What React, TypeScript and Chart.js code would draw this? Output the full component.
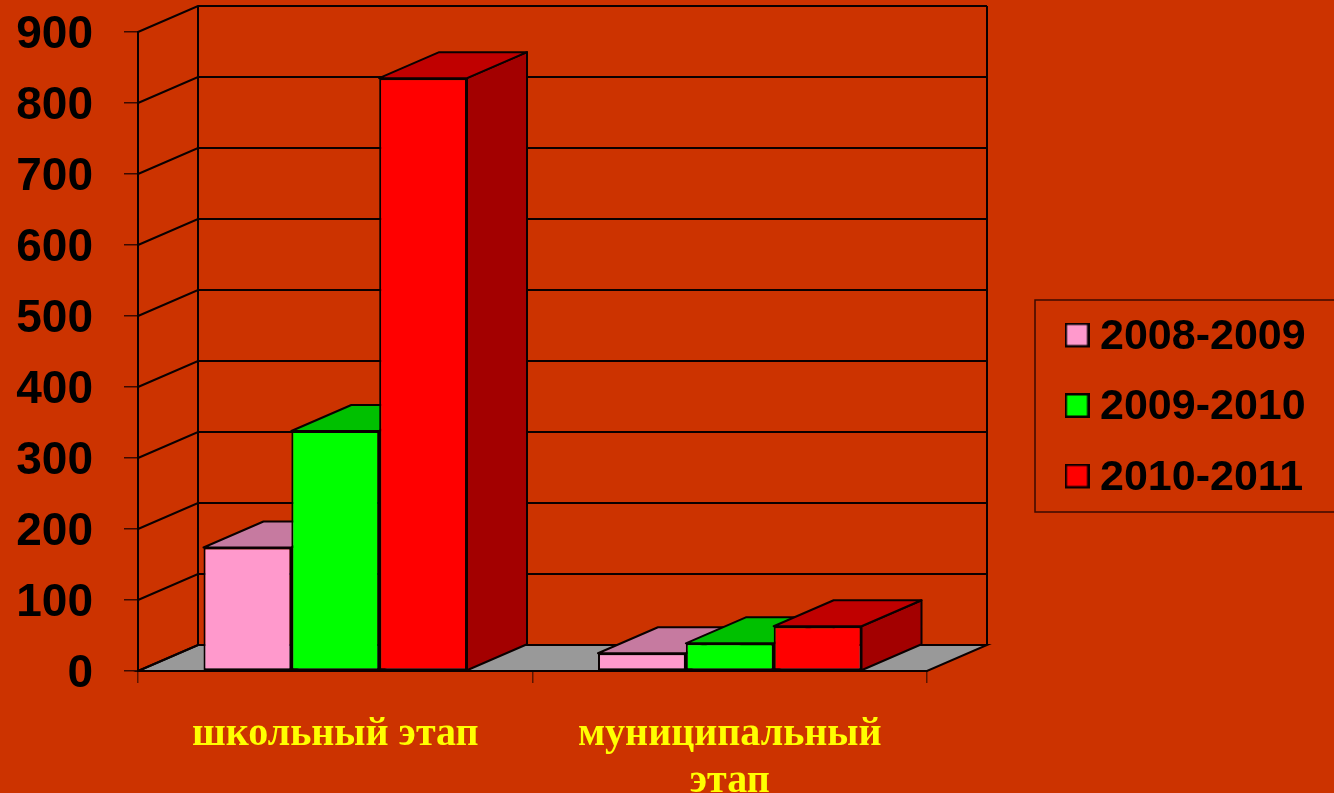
import React, { useEffect, useRef } from "react";
import { Chart, registerables } from "chart.js";

Chart.register(...registerables);

const categories: (string | string[])[] = ["школьный этап", ["муниципальный", "этап"]];
const seriesNames = ["2008-2009", "2009-2010", "2010-2011"];
const values2008 = [174, 25];
const values2009 = [338, 39];
const values2010 = [835, 63];
const frontColors = ["#FF99CC", "#00FF00", "#FF0000"];
const topColors = ["#C67AA0", "#00C000", "#C00000"];
const sideColors = ["#99587A", "#009A00", "#A30000"];
const gridValues = [0, 100, 200, 300, 400, 500, 600, 700, 800, 900];

const BG = "#CC3300";
const INK = "#0A0000";
const DX = 60;
const DY = 26;
const shiftedLabels = new WeakSet<object>();

function makeSwatch(color: string) {
  const c = document.createElement("canvas");
  c.width = 25;
  c.height = 29;
  const g = c.getContext("2d")!;
  g.fillStyle = color;
  g.fillRect(0, 0, 25, 25);
  g.strokeStyle = INK;
  g.lineWidth = 2.5;
  g.strokeRect(1.25, 1.25, 22.5, 22.5);
  return c;
}

function poly(ctx: CanvasRenderingContext2D, pts: number[][], fill: string | null, lw = 2) {
  ctx.beginPath();
  pts.forEach((p, i) => (i ? ctx.lineTo(p[0], p[1]) : ctx.moveTo(p[0], p[1])));
  ctx.closePath();
  if (fill) {
    ctx.fillStyle = fill;
    ctx.fill();
  }
  ctx.lineWidth = lw;
  ctx.strokeStyle = INK;
  ctx.stroke();
}

const scene3d = {
  id: "scene3d",
  afterLayout(chart: any) {
    const lg = chart.legend;
    if (lg) {
      lg.left = 1048;
      lg.right = 1334;
      lg.top = 288;
      lg.bottom = 560;
    }
  },
  beforeDraw(chart: any) {
    const { ctx, chartArea, scales } = chart;
    const { left, right } = chartArea;
    const y = scales.y;

    const items = y.getLabelItems(chartArea);
    if (!shiftedLabels.has(items)) {
      shiftedLabels.add(items);
      items.forEach((it: any) => {
        it.options.translation[1] += 3.5;
      });
    }

    ctx.save();
    ctx.fillStyle = BG;
    ctx.fillRect(0, 0, chart.width, chart.height);

    // legend frame
    ctx.strokeStyle = "#3A0A00";
    ctx.lineWidth = 1.5;
    ctx.strokeRect(1035, 300, 320, 212);

    // floor
    const y0 = y.getPixelForValue(0);
    poly(ctx, [[left, y0], [left + DX, y0 - DY], [right + DX, y0 - DY], [right, y0]], "#999999", 2);

    // walls
    ctx.strokeStyle = INK;
    ctx.lineWidth = 2;
    gridValues.forEach((v) => {
      const py = y.getPixelForValue(v);
      ctx.beginPath();
      ctx.moveTo(left, py);
      ctx.lineTo(left + DX, py - DY);
      ctx.lineTo(right + DX, py - DY);
      ctx.stroke();
    });
    const yTop = y.getPixelForValue(900);
    ctx.beginPath();
    ctx.moveTo(left + DX, yTop - DY);
    ctx.lineTo(left + DX, y0 - DY);
    ctx.moveTo(right + DX, yTop - DY);
    ctx.lineTo(right + DX, y0 - DY);
    ctx.stroke();
    ctx.restore();
  },
  beforeDatasetsDraw(chart: any) {
    const { ctx } = chart;
    ctx.save();
    ctx.lineJoin = "round";
    for (let c = 0; c < categories.length; c++) {
      for (let d = 0; d < chart.data.datasets.length; d++) {
        const bar = chart.getDatasetMeta(d).data[c];
        const l = bar.x - bar.width / 2;
        const r = bar.x + bar.width / 2;
        const t = bar.y;
        const b = bar.base;
        poly(ctx, [[r, t], [r + DX, t - DY], [r + DX, b - DY], [r, b]], sideColors[d]);
        poly(ctx, [[l, t], [l + DX, t - DY], [r + DX, t - DY], [r, t]], topColors[d]);
      }
    }
    ctx.restore();
  },
};

export default function App() {
  const ref = useRef<HTMLCanvasElement>(null);
  useEffect(() => {
    document.body.style.background = BG;
    const swatches = frontColors.map(makeSwatch);
    const chart = new Chart(ref.current!, {
      type: "bar",
      data: {
        labels: categories as any,
        datasets: [values2008, values2009, values2010].map((data, i) => ({
          label: seriesNames[i],
          data,
          backgroundColor: frontColors[i],
          borderColor: INK,
          borderWidth: 2,
          borderSkipped: false,
          categoryPercentage: 0.668,
          barPercentage: 1,
        })),
      },
      options: {
        animation: false,
        responsive: false,
        layout: { padding: { left: 0, top: 32, right: 407, bottom: 0 } },
        plugins: {
          tooltip: { enabled: false },
          title: { display: false },
          legend: {
            display: true,
            position: "chartArea" as any,
            align: "start",
            labels: {
              usePointStyle: true,
              boxWidth: 3,
              padding: 27.5,
              color: "#000000",
              font: { family: "'Liberation Sans'", weight: "bold", size: 43 },
              generateLabels(chart: any) {
                return Chart.defaults.plugins.legend.labels
                  .generateLabels(chart)
                  .map((it: any, i: number) => ({ ...it, pointStyle: swatches[i] }));
              },
            },
          },
        },
        scales: {
          x: {
            afterFit(s: any) {
              s.height = 122;
              s.paddingLeft = 0;
              s.paddingRight = 0;
            },
            grid: {
              drawOnChartArea: false,
              drawTicks: true,
              tickLength: 12,
              color: "#5A1500",
              lineWidth: 1.5,
              offset: true,
            },
            border: { color: INK, width: 2 },
            ticks: {
              color: "#FFFF00",
              autoSkip: false,
              maxRotation: 0,
              minRotation: 0,
              padding: 28,
              font: { family: "'Liberation Serif'", weight: "bold", size: 40, lineHeight: 1.175 },
            },
          },
          y: {
            min: 0,
            max: 900,
            afterFit(s: any) {
              s.width = 138;
              s.paddingTop = 0;
              s.paddingBottom = 0;
            },
            grid: {
              drawOnChartArea: false,
              drawTicks: true,
              tickLength: 14,
              color: "#3A0A00",
              lineWidth: 1.5,
            },
            border: { color: INK, width: 2 },
            ticks: {
              stepSize: 100,
              color: "#000000",
              padding: 31,
              font: { family: "'Liberation Sans'", weight: "bold", size: 46 },
            },
          },
        },
      },
      plugins: [scene3d as any],
    });
    return () => chart.destroy();
  }, []);
  return (
    <div style={{ position: "absolute", left: 0, top: 0, width: 1334, height: 793, overflow: "hidden" }}>
      <canvas ref={ref} width={1334} height={793} style={{ display: "block" }} />
    </div>
  );
}
